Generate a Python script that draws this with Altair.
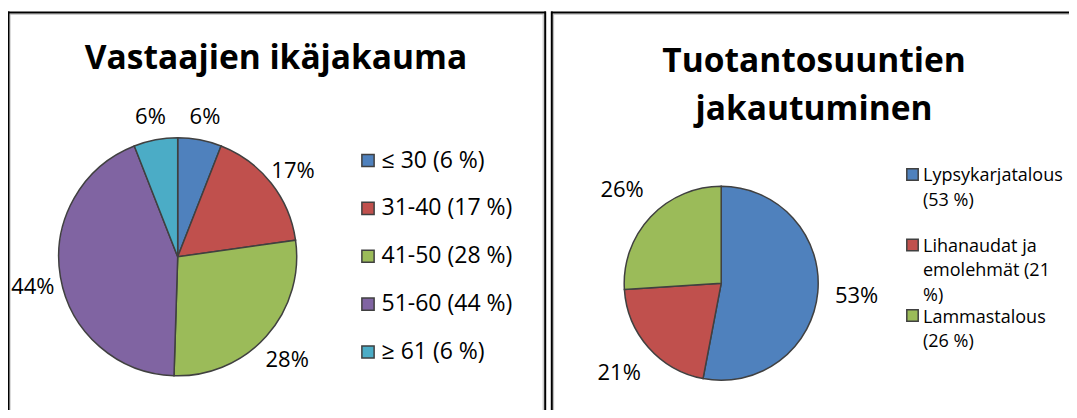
import altair as alt
import pandas as pd

# ---- data ----
age_cats = ["≤ 30", "31-40", "41-50", "51-60", "≥ 61"]
age_pct = [6, 17, 28, 44, 6]
age_colors = ["#4F81BD", "#C0504D", "#9BBB59", "#8064A2", "#4BACC6"]
age_legend = ["≤ 30 (6 %)", "31-40 (17 %)", "41-50 (28 %)", "51-60 (44 %)", "≥ 61 (6 %)"]

prod_cats = ["Lypsykarjatalous", "Lihanaudat ja emolehmät", "Lammastalous"]
prod_pct = [53, 21, 26]
prod_colors = ["#4F81BD", "#C0504D", "#9BBB59"]
prod_legend = ["Lypsykarjatalous\n(53 %)", "Lihanaudat ja\nemolehmät (21\n%)", "Lammastalous\n(26 %)"]

title_left = "Vastaajien ikäjakauma"
title_right = "Tuotantosuuntien\njakautuminen"

FONT = "Open Sans"

df_age = pd.DataFrame({
    "cat": age_cats, "pct": age_pct, "idx": list(range(len(age_cats))),
    "legend": age_legend, "label": [f"{p}%" for p in age_pct],
})
df_prod = pd.DataFrame({
    "cat": prod_cats, "pct": prod_pct, "idx": list(range(len(prod_cats))),
    "legend": prod_legend, "label": [f"{p}%" for p in prod_pct],
})
one = pd.DataFrame({"a": [0]})

age_color = alt.Color("cat:N", scale=alt.Scale(domain=age_cats, range=age_colors), legend=None)
prod_color = alt.Color("cat:N", scale=alt.Scale(domain=prod_cats, range=prod_colors), legend=None)

# ---- left pie ----
L_CX, L_CY, L_R = 169.7, 248.8, 119
arc_age = alt.Chart(df_age).mark_arc(outerRadius=L_R, stroke="#404040", strokeWidth=1.5).encode(
    theta=alt.Theta("pct:Q", stack="normalize"),
    color=age_color,
    order=alt.Order("idx:Q"),
    x=alt.value(L_CX), y=alt.value(L_CY),
)
lbl_age = alt.Chart(df_age).mark_text(radius=147, dy=5, fontSize=22, font=FONT, color="black").encode(
    theta=alt.Theta("pct:Q", stack="normalize"),
    order=alt.Order("idx:Q"),
    text="label:N",
    x=alt.value(L_CX), y=alt.value(L_CY),
)
leg_age_sym = alt.Chart(df_age).mark_square(size=150, stroke="#404040", strokeWidth=1.5, opacity=1).encode(
    y=alt.Y("cat:N", scale=alt.Scale(domain=age_cats, range=[152.5, 344], padding=0), axis=None, sort=age_cats),
    color=age_color,
    x=alt.value(360),
)
leg_age_txt = alt.Chart(df_age).mark_text(align="left", baseline="middle", fontSize=23, font=FONT, color="black").encode(
    y=alt.Y("cat:N", scale=alt.Scale(domain=age_cats, range=[152.5, 344], padding=0), axis=None, sort=age_cats),
    text="legend:N",
    x=alt.value(373.5),
)
ttl_left = alt.Chart(one).mark_text(text=title_left, fontSize=33.5, fontWeight="bold", font=FONT,
                                    align="center", baseline="alphabetic", color="black").encode(
    x=alt.value(268), y=alt.value(61))

# ---- right pie ----
R_CX, R_CY, R_R = 713.2, 275.3, 97
arc_prod = alt.Chart(df_prod).mark_arc(outerRadius=R_R, stroke="#404040", strokeWidth=1.5).encode(
    theta=alt.Theta("pct:Q", stack="normalize"),
    color=prod_color,
    order=alt.Order("idx:Q"),
    x=alt.value(R_CX), y=alt.value(R_CY),
)
lbl_prod = alt.Chart(df_prod).mark_text(radius=136, fontSize=22, font=FONT, color="black").encode(
    theta=alt.Theta("pct:Q", stack="normalize"),
    order=alt.Order("idx:Q"),
    text="label:N",
    x=alt.value(R_CX), y=alt.value(R_CY),
)
leg_prod_sym = alt.Chart(df_prod).mark_square(size=130, stroke="#404040", strokeWidth=1.5, opacity=1).encode(
    y=alt.Y("cat:N", scale=alt.Scale(domain=prod_cats, range=[166.5, 307.5], padding=0), axis=None, sort=prod_cats),
    color=prod_color,
    x=alt.value(904.5),
)
leg_prod_txt = alt.Chart(df_prod).mark_text(align="left", baseline="alphabetic", fontSize=18, font=FONT,
                                            lineBreak="\n", lineHeight=24.5, color="black").encode(
    y=alt.Y("cat:N", scale=alt.Scale(domain=prod_cats, range=[173, 314.5], padding=0), axis=None, sort=prod_cats),
    text="legend:N",
    x=alt.value(915),
)
ttl_right = alt.Chart(one).mark_text(text=title_right, fontSize=33.5, fontWeight="bold", font=FONT,
                                     align="center", baseline="alphabetic", lineBreak="\n",
                                     lineHeight=48.5, color="black").encode(
    x=alt.value(806), y=alt.value(63.5))

# ---- panel borders (decoration) ----
def vrule(x, y0, color, w):
    return alt.Chart(one).mark_rule(color=color, strokeWidth=w).encode(
        x=alt.value(x), y=alt.value(y0), y2=alt.value(402))

def hrule(x0, x1, y, color, w):
    return alt.Chart(one).mark_rule(color=color, strokeWidth=w).encode(
        x=alt.value(x0), x2=alt.value(x1), y=alt.value(y))

borders = [
    # left panel
    vrule(2.0, 6, "#b8b8b8", 1), hrule(1.5, 535.5, 6.2, "#b8b8b8", 1), vrule(535.2, 6, "#b8b8b8", 1),
    vrule(0.5, 3.6, "black", 2), hrule(0, 538, 4.5, "black", 2), vrule(537.2, 3.6, "black", 2),
    # right panel
    vrule(545.6, 6, "#b8b8b8", 1), hrule(545, 1061, 6.2, "#b8b8b8", 1),
    vrule(543.8, 3.6, "black", 2), hrule(543, 1061, 4.5, "black", 2),
]

chart = alt.layer(
    *borders,
    arc_age, lbl_age, leg_age_sym, leg_age_txt, ttl_left,
    arc_prod, lbl_prod, leg_prod_sym, leg_prod_txt, ttl_right,
).resolve_scale(
    color="independent", theta="independent", y="independent"
).properties(
    width=1061, height=402, padding=0, autosize="none", background="white"
).configure_view(stroke=None)

chart.save("out.html", embed_options={"renderer": "svg", "actions": False})
